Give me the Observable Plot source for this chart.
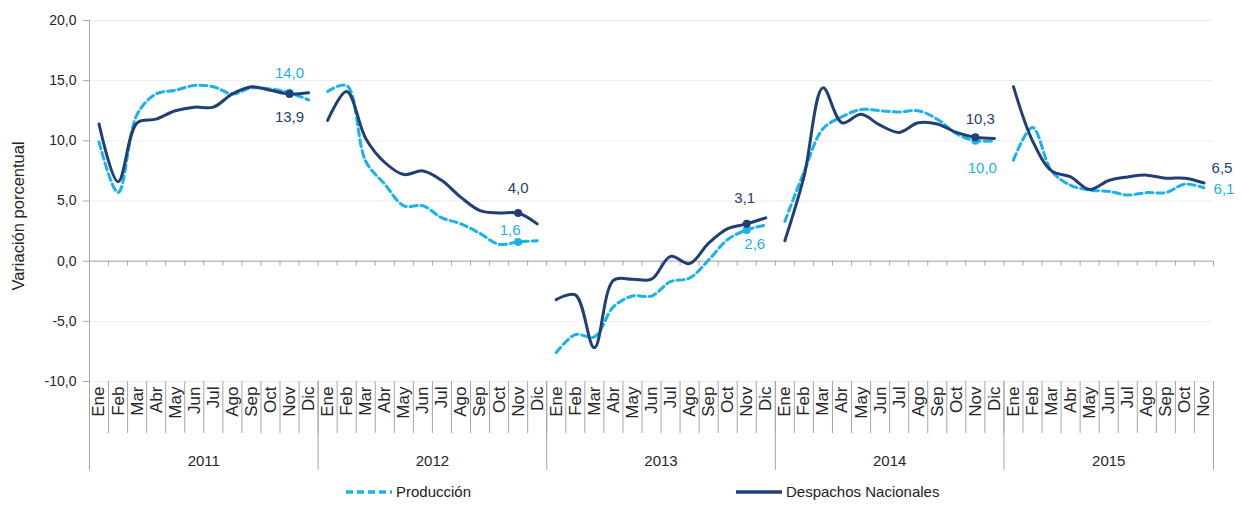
<!DOCTYPE html>
<html>
<head>
<meta charset="utf-8">
<script src="https://cdn.jsdelivr.net/npm/d3@7"></script>
<script src="https://cdn.jsdelivr.net/npm/@observablehq/plot@0.6"></script>
<style>
  html, body { margin: 0; padding: 0; background: #fff; }
  body { width: 1242px; height: 506px; overflow: hidden; font-family: "Liberation Sans Narrow", "Liberation Sans", Arial, sans-serif; }
  #legend { position: relative; height: 26px; font-size: 15px; color: #222; }
  #legend .item { position: absolute; top: 3px; display: flex; align-items: center; }
  #legend svg { display: block; margin-right: 3px; }
</style>
</head>
<body>
<div id="chart"></div>
<div id="legend"></div>
<script>
// ---------- data ----------
const years = ["2011", "2012", "2013", "2014", "2015"];
const monthsPerYear = [12, 12, 12, 12, 11];
const monthNames = ["Ene","Feb","Mar","Abr","May","Jun","Jul","Ago","Sep","Oct","Nov","Dic"];
const yTicks = [-10, -5, 0, 5, 10, 15, 20];

// Variación porcentual, Ene-2011 .. Nov-2015
const produccion = [
  9.9, 5.7, 12.2, 13.9, 14.2, 14.6, 14.5, 13.9, 14.4, 14.3, 14.0, 13.4,
  14.1, 14.6, 8.3, 6.4, 4.6, 4.6, 3.6, 3.1, 2.3, 1.4, 1.6, 1.7,
  -7.6, -6.1, -6.3, -3.8, -2.9, -2.9, -1.7, -1.4, 0.1, 1.8, 2.6, 3.0,
  3.3, 7.4, 11.0, 12.0, 12.6, 12.5, 12.4, 12.5, 11.8, 10.6, 10.0, 10.0,
  8.4, 11.1, 7.5, 6.3, 5.9, 5.8, 5.5, 5.7, 5.7, 6.4, 6.1
];
const despachos = [
  11.4, 6.6, 11.5, 11.8, 12.5, 12.8, 12.8, 13.9, 14.5, 14.2, 13.9, 14.0,
  11.7, 14.1, 10.2, 8.2, 7.2, 7.5, 6.7, 5.3, 4.2, 4.0, 4.0, 3.1,
  -3.2, -2.8, -7.2, -1.6, -1.5, -1.5, 0.4, -0.2, 1.5, 2.7, 3.1, 3.6,
  1.7, 7.0, 14.4, 11.5, 12.2, 11.3, 10.7, 11.5, 11.4, 10.7, 10.3, 10.2,
  14.5, 10.0, 7.5, 7.0, 5.95, 6.7, 7.0, 7.15, 6.9, 6.9, 6.5
];
const seriesNames = ["Producción", "Despachos Nacionales"];

// labelled points: [series index, month index overall]
const labelled = [
  [0, 10], [1, 10], [1, 22], [0, 22], [1, 34], [0, 34], [1, 46], [0, 46], [1, 58], [0, 58]
];
// label offsets (style)
const labelOffsets = [
  [0, -20], [0, 23], [0, -25], [-8, -12], [-2, -26], [8, 14], [5, -18], [7, 27], [18, -15], [20, 1]
];

// ---------- styles ----------
const colProd = "#1ab2ec";
const colDesp = "#203f74";
const axisCol = "#a6a6a6";
const gridCol = "#ededed";
const textCol = "#262626";
const fmt = d => d.toFixed(1).replace(".", ",");
const font = '"Liberation Sans Narrow", "Liberation Sans", Arial, sans-serif';
const wideFont = '"Liberation Sans", Arial, sans-serif';

// ---------- build tables ----------
const months = [];
let k = 0;
years.forEach((yr, yi) => {
  for (let m = 0; m < monthsPerYear[yi]; m++) {
    months.push({i: k, year: yr, month: monthNames[m]});
    k++;
  }
});
const N = months.length;
const rows = [];
months.forEach(d => {
  rows.push({...d, s: 0, v: produccion[d.i]});
  rows.push({...d, s: 1, v: despachos[d.i]});
});
const prodRows = rows.filter(d => d.s === 0);
const despRows = rows.filter(d => d.s === 1);
const boundaries = d3.range(N + 1).map(i => i - 0.5);
const yearStart = [];
let acc = 0;
monthsPerYear.forEach(n => { yearStart.push(acc); acc += n; });
const yearBounds = [...yearStart.map(s => s - 0.5), N - 0.5];
const yearLabels = years.map((yr, yi) => ({year: yr, c: yearStart[yi] + (monthsPerYear[yi] - 1) / 2}));
const dotRows = rows.filter(d => d.month === "Nov" && d.i !== N - 1);
const labelRows = labelled.map(([s, i], j) => ({
  s, i, v: s === 0 ? produccion[i] : despachos[i], dx: labelOffsets[j][0], dy: labelOffsets[j][1]
}));

const marks = [
  // gridlines
  Plot.ruleY(yTicks, {y: d => d, x1: -0.5, x2: N - 0.5, stroke: gridCol, strokeWidth: 1}),
  // y axis line
  Plot.ruleX([-0.5], {x: d => d, y1: 20, y2: -10, stroke: axisCol}),
  // y ticks
  Plot.ruleY(yTicks, {y: d => d, x1: -0.5, x2: -0.5, insetLeft: -6, stroke: axisCol}),
  Plot.text(yTicks, {y: d => d, x: -0.5, dx: -13, textAnchor: "end", text: fmt, fontSize: 14, fill: textCol}),
  // x axis line at 0
  Plot.ruleY([0], {y: d => d, x1: -0.5, x2: N - 0.5, stroke: axisCol}),
  Plot.ruleX(boundaries, {x: d => d, y1: 0, y2: 0, insetBottom: -5, stroke: axisCol}),
  // category separators below
  Plot.ruleX(boundaries, {x: d => d, y1: -10, y2: -10, insetBottom: -52, stroke: axisCol}),
  Plot.ruleX(yearBounds, {x: d => d, y1: -10, y2: -10, insetBottom: -89, stroke: axisCol}),
  // month labels
  Plot.text(months, {x: "i", y: -10, text: "month", rotate: -90, textAnchor: "end", dy: 5, fontSize: 17, fontFamily: wideFont, fill: textCol}),
  // year labels
  Plot.text(yearLabels, {x: "c", y: -10, text: "year", dy: 80, fontSize: 15, fill: textCol}),
  // y title
  Plot.text(["Variación porcentual"], {frameAnchor: "left", textAnchor: "middle", dx: -71, dy: 15, rotate: -90, fontSize: 16.5, fontFamily: wideFont, fill: textCol}),
  // series lines
  Plot.line(prodRows, {x: "i", y: "v", z: "year", curve: "catmull-rom", stroke: colProd, strokeWidth: 3, strokeDasharray: "7,4"}),
  Plot.line(despRows, {x: "i", y: "v", z: "year", curve: "catmull-rom", stroke: colDesp, strokeWidth: 3}),
  // markers
  Plot.dot(dotRows.filter(d => d.s === 0), {x: "i", y: "v", r: 4, fill: colProd}),
  Plot.dot(dotRows.filter(d => d.s === 1), {x: "i", y: "v", r: 4, fill: colDesp})
];

// data labels (one mark per label so each can carry its own offset)
const labelMarks = labelRows.map(d => Plot.text([d], {x: "i", y: "v", text: r => fmt(r.v), dx: d.dx, dy: d.dy,
  fill: d.s === 0 ? colProd : colDesp, fontSize: 15}));

const chart = Plot.plot({
  width: 1242,
  height: 480,
  marginLeft: 89,
  marginRight: 29,
  marginTop: 20,
  marginBottom: 99,
  x: {type: "linear", domain: [-0.5, N - 0.5], axis: null},
  y: {type: "linear", domain: [-10, 20], axis: null},
  style: {fontFamily: font, background: "#fff", overflow: "visible"},
  marks: [...marks, ...labelMarks]
});
document.getElementById("chart").appendChild(chart);

// legend
const legend = document.getElementById("legend");
const items = [
  {name: seriesNames[0], color: colProd, dash: "7,4", left: 345},
  {name: seriesNames[1], color: colDesp, dash: null, left: 735}
];
items.forEach(it => {
  const div = document.createElement("div");
  div.className = "item";
  div.style.left = it.left + "px";
  div.innerHTML = `<svg width="48" height="8"><line x1="1" y1="4" x2="47" y2="4" stroke="${it.color}" stroke-width="3.5" ${it.dash ? `stroke-dasharray="${it.dash}"` : ""}/></svg><span>${it.name}</span>`;
  legend.appendChild(div);
});
</script>
</body>
</html>
